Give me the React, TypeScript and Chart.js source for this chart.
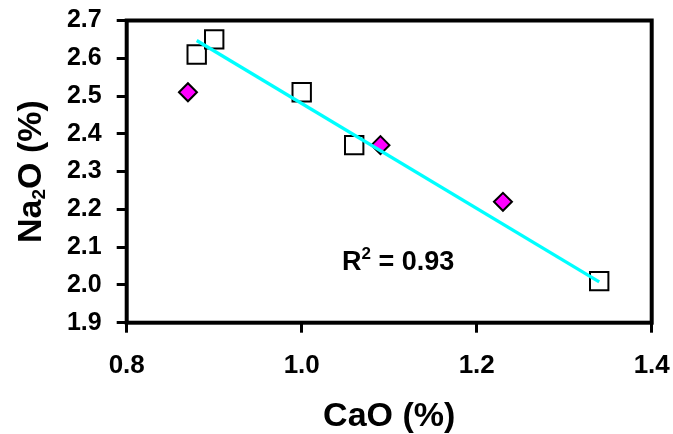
import React, { useEffect, useRef } from 'react';
import { Chart, registerables } from 'chart.js';

Chart.register(...registerables);

// ---- data ----
const squaresX = [0.88, 0.9, 1.0, 1.06, 1.34];
const squaresY = [2.61, 2.65, 2.51, 2.37, 2.01];
const diamondsX = [0.87, 1.09, 1.23];
const diamondsY = [2.51, 2.37, 2.22];
const trendX = [0.88, 1.34];
const trendY = [2.647, 2.008];
const xTicks = [0.8, 1.0, 1.2, 1.4];
const yTicks = [1.9, 2.0, 2.1, 2.2, 2.3, 2.4, 2.5, 2.6, 2.7];
const xTitle = 'CaO (%)';
const yTitleParts = ['Na', '2', 'O (%)'];
const r2Parts = ['R', '2', ' = 0.93'];
const r2Anchor = { x: 1.046, y: 2.039 };

const FONT = '"Liberation Sans", Arial, Helvetica, sans-serif';

const framePlugin = {
  id: 'frameAndText',
  afterDatasetsDraw(chart: any) {
    const { ctx, chartArea, scales } = chart;
    ctx.save();
    // plot frame
    ctx.strokeStyle = '#000';
    ctx.lineWidth = 4;
    ctx.strokeRect(chartArea.left, chartArea.top, chartArea.right - chartArea.left, chartArea.bottom - chartArea.top);

    ctx.fillStyle = '#000';
    ctx.textBaseline = 'alphabetic';
    ctx.textAlign = 'left';

    // R^2 label
    const rx = scales.x.getPixelForValue(r2Anchor.x);
    const ry = scales.y.getPixelForValue(r2Anchor.y);
    ctx.font = `bold 27px ${FONT}`;
    ctx.fillText(r2Parts[0], rx, ry);
    let px = rx + ctx.measureText(r2Parts[0]).width;
    ctx.font = `bold 17px ${FONT}`;
    ctx.fillText(r2Parts[1], px, ry - 11.5);
    px += ctx.measureText(r2Parts[1]).width;
    ctx.font = `bold 27px ${FONT}`;
    ctx.fillText(r2Parts[2], px, ry);

    // Y axis title with subscript
    const cy = (chartArea.top + chartArea.bottom) / 2;
    ctx.translate(40.5, cy);
    ctx.rotate(-Math.PI / 2);
    ctx.font = `bold 34px ${FONT}`;
    const w1 = ctx.measureText(yTitleParts[0]).width;
    const w3 = ctx.measureText(yTitleParts[2]).width;
    ctx.font = `bold 19px ${FONT}`;
    const w2 = ctx.measureText(yTitleParts[1]).width;
    let tx = -(w1 + w2 + w3) / 2;
    ctx.font = `bold 34px ${FONT}`;
    ctx.fillText(yTitleParts[0], tx, 0);
    tx += w1;
    ctx.font = `bold 19px ${FONT}`;
    ctx.fillText(yTitleParts[1], tx, 4.5);
    tx += w2;
    ctx.font = `bold 34px ${FONT}`;
    ctx.fillText(yTitleParts[2], tx, 0);
    ctx.restore();
  },
};

export default function App() {
  const ref = useRef<HTMLCanvasElement | null>(null);

  useEffect(() => {
    if (!ref.current) return;
    const chart = new Chart(ref.current, {
      type: 'scatter',
      data: {
        datasets: [
          {
            label: 'trend',
            data: trendX.map((x, i) => ({ x, y: trendY[i] })),
            showLine: true,
            borderColor: '#00FFFF',
            borderWidth: 3.3,
            pointRadius: 0,
            fill: false,
          },
          {
            label: 'squares',
            data: squaresX.map((x, i) => ({ x, y: squaresY[i] })),
            pointStyle: 'rect',
            pointRadius: 13,
            pointBackgroundColor: '#FFFFFF',
            pointBorderColor: '#000000',
            pointBorderWidth: 2,
            showLine: false,
          },
          {
            label: 'diamonds',
            data: diamondsX.map((x, i) => ({ x, y: diamondsY[i] })),
            pointStyle: 'rectRot',
            pointRadius: 9,
            pointBackgroundColor: '#FF00FF',
            pointBorderColor: '#000000',
            pointBorderWidth: 2,
            showLine: false,
          },
        ],
      },
      options: {
        animation: false,
        responsive: false,
        maintainAspectRatio: false,
        layout: { padding: { top: 20.5, right: 21.3, bottom: 0, left: 0 } },
        plugins: { legend: { display: false }, tooltip: { enabled: false } },
        scales: {
          x: {
            type: 'linear',
            min: 0.8,
            max: 1.4,
            afterBuildTicks: (s: any) => {
              s.ticks = xTicks.map((v) => ({ value: v }));
            },
            afterFit: (s: any) => {
              s.height = 111.3;
              s.paddingLeft = 0;
              s.paddingRight = 0;
              s.paddingTop = 0;
              s.paddingBottom = 0;
            },
            ticks: {
              callback: (v: any) => Number(v).toFixed(1),
              font: { family: FONT, size: 26, weight: 'bold' },
              color: '#000',
              padding: 18,
              maxRotation: 0,
              autoSkip: false,
            },
            grid: { display: true, drawOnChartArea: false, drawTicks: true, tickLength: 10, color: '#000', lineWidth: 3 },
            border: { display: false },
            title: {
              display: true,
              text: xTitle,
              color: '#000',
              font: { family: FONT, size: 34, weight: 'bold', lineHeight: 1 },
              padding: 0,
            },
          },
          y: {
            type: 'linear',
            min: 1.9,
            max: 2.7,
            afterBuildTicks: (s: any) => {
              s.ticks = yTicks.map((v) => ({ value: v }));
            },
            afterFit: (s: any) => {
              s.width = 126.7;
              s.paddingLeft = 0;
              s.paddingRight = 0;
              s.paddingTop = 0;
              s.paddingBottom = 0;
            },
            ticks: {
              callback: (v: any) => Number(v).toFixed(1),
              font: { family: FONT, size: 25, weight: 'bold' },
              color: '#000',
              padding: 15,
              autoSkip: false,
            },
            grid: { display: true, drawOnChartArea: false, drawTicks: true, tickLength: 10, color: '#000', lineWidth: 3 },
            border: { display: false },
          },
        },
      },
      plugins: [framePlugin],
    } as any);
    return () => chart.destroy();
  }, []);

  return (
    <div style={{ position: 'absolute', left: 0, top: 0, width: 673, height: 434, background: '#fff' }}>
      <canvas ref={ref} width={673} height={434} style={{ display: 'block', width: 673, height: 434 }} />
    </div>
  );
}
